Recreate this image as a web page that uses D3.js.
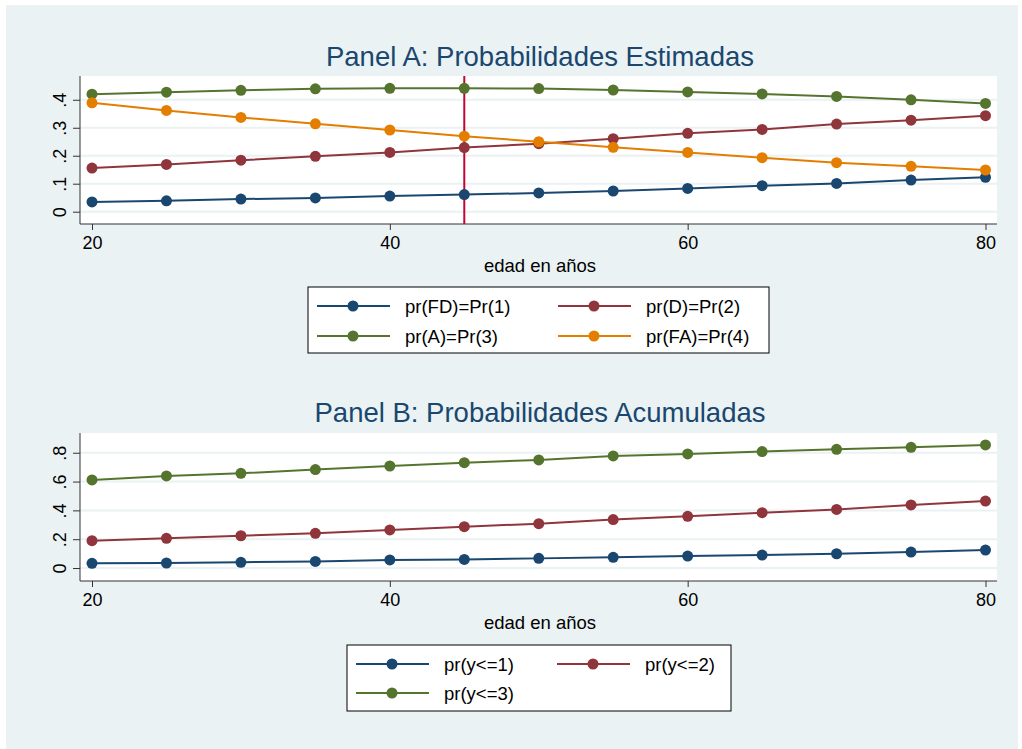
<!DOCTYPE html>
<html>
<head>
<meta charset="utf-8">
<script src="https://d3js.org/d3.v7.min.js"></script>
<style>
  body { margin: 0; background: #ffffff; }
  svg { display: block; font-family: Arial, "Liberation Sans", sans-serif; }
</style>
</head>
<body>
<svg width="1022" height="749"></svg>
<script>
// edad en años
var ages = [20, 25, 30, 35, 40, 45, 50, 55, 60, 65, 70, 75, 80];

// Panel A: probabilidades estimadas
var prFD = [0.035, 0.039, 0.045, 0.049, 0.056, 0.061, 0.067, 0.074, 0.083, 0.093, 0.101, 0.113, 0.123];
var prD  = [0.156, 0.169, 0.184, 0.198, 0.212, 0.229, 0.243, 0.261, 0.280, 0.294, 0.313, 0.327, 0.343];
var prA  = [0.420, 0.427, 0.434, 0.439, 0.441, 0.441, 0.440, 0.435, 0.428, 0.421, 0.412, 0.400, 0.387];
var prFA = [0.389, 0.362, 0.337, 0.314, 0.292, 0.270, 0.250, 0.230, 0.212, 0.193, 0.175, 0.162, 0.149];

// Panel B: probabilidades acumuladas
var cumY1 = [0.033, 0.035, 0.040, 0.046, 0.056, 0.060, 0.067, 0.074, 0.083, 0.090, 0.099, 0.111, 0.125];
var cumY2 = [0.190, 0.206, 0.224, 0.241, 0.264, 0.287, 0.308, 0.336, 0.359, 0.384, 0.407, 0.438, 0.465];
var cumY3 = [0.611, 0.639, 0.657, 0.683, 0.708, 0.731, 0.750, 0.778, 0.792, 0.808, 0.824, 0.838, 0.854];

var xTicks = [20, 40, 60, 80];
var yTicksA = [0, 0.1, 0.2, 0.3, 0.4];
var yTicksB = [0, 0.2, 0.4, 0.6, 0.8];
var refAge = 45;

var navy = "#1a476f", maroon = "#90353b", green = "#55752f", orange = "#e37e00";
var bg = "#eaf2f3";

var panels = {

    show : function() {
        var svg = d3.select("svg");

        svg.append("rect")
            .attr("x", 6).attr("y", 5)
            .attr("width", 1012).attr("height", 744)
            .style("fill", bg);

        panels.drawPanel(svg, {
            title: "Panel A: Probabilidades Estimadas",
            titleY: 66,
            top: 76, bottom: 224,
            yDomain: [-0.044, 0.485],
            yTicks: yTicksA,
            series: [
                {name: "pr(FD)=Pr(1)", values: prFD, color: navy},
                {name: "pr(D)=Pr(2)",  values: prD,  color: maroon},
                {name: "pr(A)=Pr(3)",  values: prA,  color: green},
                {name: "pr(FA)=Pr(4)", values: prFA, color: orange}
            ],
            refLine: refAge,
            legend: {x: 308, y: 287, w: 461, h: 66, rowH: 30, colW: 241}
        });

        panels.drawPanel(svg, {
            title: "Panel B: Probabilidades Acumuladas",
            titleY: 422,
            top: 433, bottom: 581,
            yDomain: [-0.09, 0.937],
            yTicks: yTicksB,
            series: [
                {name: "pr(y<=1)", values: cumY1, color: navy},
                {name: "pr(y<=2)", values: cumY2, color: maroon},
                {name: "pr(y<=3)", values: cumY3, color: green}
            ],
            refLine: null,
            legend: {x: 347, y: 645, w: 384, h: 66, rowH: 29, colW: 201}
        });
    },

    drawPanel : function(svg, p) {
        var left = 80, right = 997;

        var x = d3.scaleLinear().domain([20, 80]).range([92, 985.5]);
        var y = d3.scaleLinear().domain(p.yDomain).range([p.bottom, p.top]);

        var g = svg.append("g");

        g.append("rect")
            .attr("x", left).attr("y", p.top)
            .attr("width", right - left).attr("height", p.bottom - p.top)
            .style("fill", "#ffffff");

        // gridlines
        g.selectAll("line.grid")
            .data(p.yTicks)
            .enter()
            .append("line")
            .attr("class", "grid")
            .attr("x1", left).attr("x2", right)
            .attr("y1", function(d) {return y(d);})
            .attr("y2", function(d) {return y(d);})
            .style("stroke", bg)
            .style("stroke-width", "2px");

        // y axis
        var yAxis = g.append("g")
            .attr("transform", "translate(" + left + ",0)")
            .call(d3.axisLeft(y).tickValues(p.yTicks).tickSize(7).tickPadding(8)
                .tickFormat(function(d) {return d === 0 ? "0" : d3.format(".1f")(d).replace(/^0/, "");}));
        yAxis.select(".domain")
            .attr("d", "M0," + p.top + "V" + p.bottom)
            .style("stroke", "#333");
        yAxis.selectAll(".tick line").style("stroke", "#333");
        yAxis.selectAll(".tick text")
            .attr("x", 0).attr("dy", 0)
            .attr("transform", "translate(-14,0) rotate(-90)")
            .style("text-anchor", "middle")
            .style("font-size", "18px")
            .style("fill", "#000")
            .style("font-family", "Arial, 'Liberation Sans', sans-serif");

        // x axis
        var xAxis = g.append("g")
            .attr("transform", "translate(0," + p.bottom + ")")
            .call(d3.axisBottom(x).tickValues(xTicks).tickSize(6).tickPadding(6));
        xAxis.select(".domain")
            .attr("d", "M" + left + ",0H" + right)
            .style("stroke", "#333");
        xAxis.selectAll(".tick line").style("stroke", "#333");
        xAxis.selectAll(".tick text")
            .style("font-size", "18px")
            .style("fill", "#000")
            .style("font-family", "Arial, 'Liberation Sans', sans-serif");

        g.append("text")
            .attr("x", 540).attr("y", p.bottom + 48)
            .style("text-anchor", "middle")
            .style("font-size", "18.5px")
            .text("edad en años");

        g.append("text")
            .attr("x", 540).attr("y", p.titleY)
            .style("text-anchor", "middle")
            .style("font-size", "27.5px")
            .style("fill", navy)
            .text(p.title);

        if (p.refLine !== null) {
            g.append("line")
                .attr("x1", x(p.refLine)).attr("x2", x(p.refLine))
                .attr("y1", p.top).attr("y2", p.bottom)
                .style("stroke", "#c10534")
                .style("stroke-width", "2px");
        }

        var line = d3.line()
            .x(function(d, i) {return x(ages[i]);})
            .y(function(d) {return y(d);});

        var sG = g.selectAll("g.series")
            .data(p.series)
            .enter()
            .append("g")
            .attr("class", "series");

        sG.append("path")
            .attr("d", function(d) {return line(d.values);})
            .style("fill", "none")
            .style("stroke", function(d) {return d.color;})
            .style("stroke-width", "2px");

        sG.selectAll("circle")
            .data(function(d) {return d.values.map(function(v, i) {return {v: v, age: ages[i], color: d.color};});})
            .enter()
            .append("circle")
            .attr("cx", function(d) {return x(d.age);})
            .attr("cy", function(d) {return y(d.v);})
            .attr("r", 5.5)
            .style("fill", function(d) {return d.color;});

        // legend
        var L = p.legend;
        var lg = g.append("g");
        lg.append("rect")
            .attr("x", L.x).attr("y", L.y)
            .attr("width", L.w).attr("height", L.h)
            .style("fill", "#ffffff")
            .style("stroke", "#000")
            .style("stroke-width", "1px");

        var items = lg.selectAll("g.item")
            .data(p.series)
            .enter()
            .append("g")
            .attr("class", "item")
            .attr("transform", function(d, i) {
                return "translate(" + (L.x + 9 + (i % 2) * L.colW) + "," + (L.y + 19 + Math.floor(i / 2) * L.rowH) + ")";
            });

        items.append("line")
            .attr("x1", 0).attr("x2", 73)
            .style("stroke", function(d) {return d.color;})
            .style("stroke-width", "2px");
        items.append("circle")
            .attr("cx", 36).attr("r", 5.5)
            .style("fill", function(d) {return d.color;});
        items.append("text")
            .attr("x", 88).attr("y", 6.5)
            .style("font-size", "18.5px")
            .text(function(d) {return d.name;});
    }
}

panels.show();
</script>
</body>
</html>
